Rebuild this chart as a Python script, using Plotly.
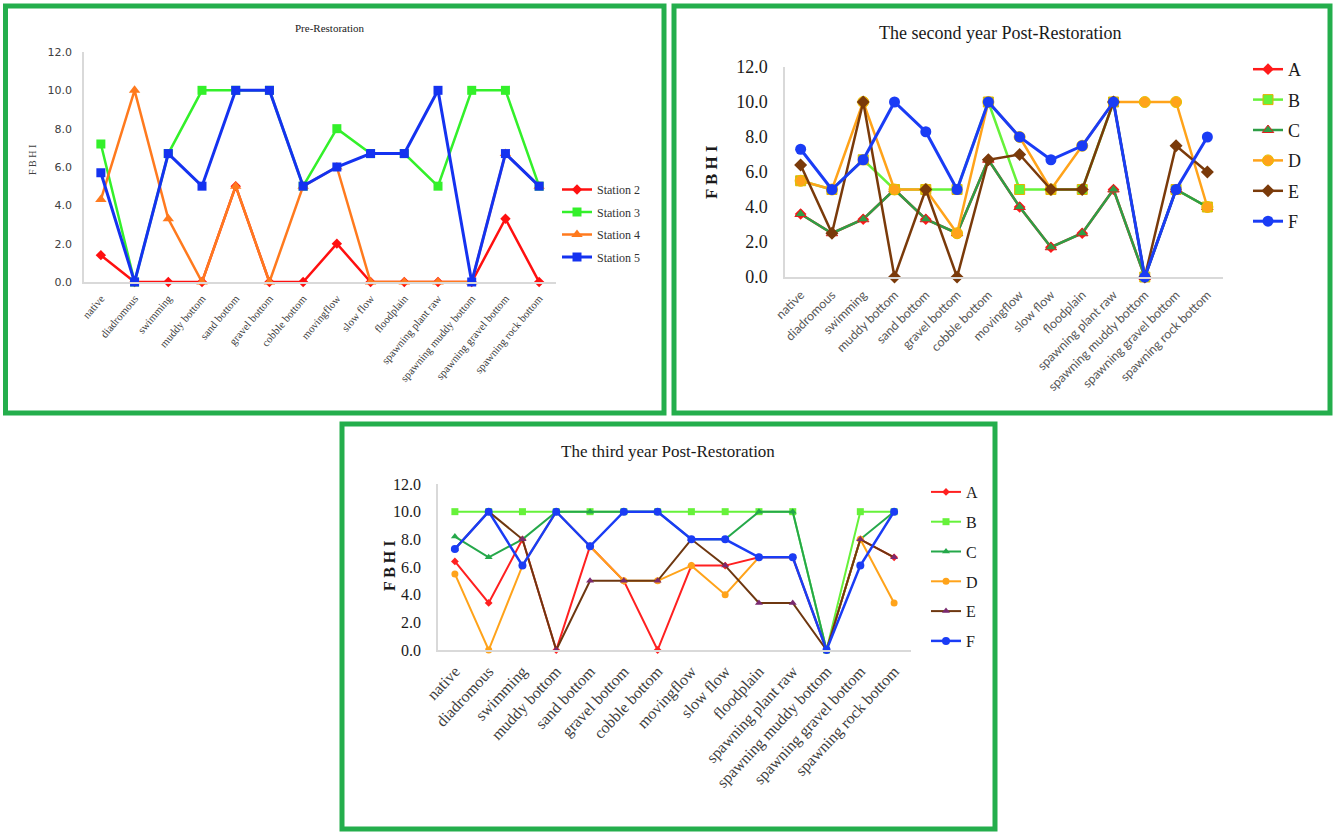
import plotly.graph_objects as go

W, H = 1334, 832

categories = ["native", "diadromous", "swimming", "muddy bottom", "sand bottom",
              "gravel bottom", "cobble bottom", "movingflow", "slow flow", "floodplain",
              "spawning plant raw", "spawning muddy bottom", "spawning gravel bottom",
              "spawning rock bottom"]
y_ticks = [0, 2, 4, 6, 8, 10, 12]

# Pre-Restoration
station2 = [1.4, 0, 0, 0, 5.0, 0, 0, 2.0, 0, 0, 0, 0, 3.3, 0]
station3 = [7.2, 0, 6.7, 10, 10, 10, 5.0, 8.0, 6.7, 6.7, 5.0, 10, 10, 5.0]
station4 = [4.3, 10, 3.3, 0, 5.0, 0, 5.0, 6.0, 0, 0, 0, 0, 6.7, 5.0]
station5 = [5.7, 0, 6.7, 5.0, 10, 10, 5.0, 6.0, 6.7, 6.7, 10, 0, 6.7, 5.0]

# The second year Post-Restoration
a2 = [3.6, 2.5, 3.3, 5.0, 3.3, 2.5, 6.7, 4.0, 1.7, 2.5, 5.0, 0, 5.0, 4.0]
b2 = [5.5, 5.0, 6.7, 5.0, 5.0, 5.0, 10, 5.0, 5.0, 5.0, 10, 0, 5.0, 4.0]
c2 = [3.6, 2.5, 3.3, 5.0, 3.3, 2.5, 6.7, 4.0, 1.7, 2.5, 5.0, 0, 5.0, 4.0]
d2 = [5.5, 5.0, 10, 5.0, 5.0, 2.5, 10, 8.0, 5.0, 7.5, 10, 10, 10, 4.0]
e2 = [6.4, 2.5, 10, 0, 5.0, 0, 6.7, 7.0, 5.0, 5.0, 10, 0, 7.5, 6.0]
f2 = [7.3, 5.0, 6.7, 10, 8.3, 5.0, 10, 8.0, 6.7, 7.5, 10, 0, 5.0, 8.0]

# The third year Post-Restoration
a3 = [6.4, 3.4, 8.0, 0, 7.5, 5.0, 0, 6.1, 6.1, 6.7, 6.7, 0, 8.0, 6.7]
b3 = [10, 10, 10, 10, 10, 10, 10, 10, 10, 10, 10, 0, 10, 10]
c3 = [8.2, 6.7, 8.0, 10, 10, 10, 10, 8.0, 8.0, 10, 10, 0, 8.0, 10]
d3 = [5.5, 0, 6.1, 10, 7.5, 5.0, 5.0, 6.1, 4.0, 6.7, 6.7, 0, 8.0, 3.4]
e3 = [7.3, 10, 8.0, 0, 5.0, 5.0, 5.0, 8.0, 6.1, 3.4, 3.4, 0, 8.0, 6.7]
f3 = [7.3, 10, 6.1, 10, 7.5, 10, 10, 8.0, 8.0, 6.7, 6.7, 0, 6.1, 10]

fig = go.Figure()


def add(name, vals, xa, ya, leg, color, symbol, size, lw, mcolor=None, mline=None, mlw=0):
    fig.add_trace(go.Scatter(
        x=categories, y=vals, name=name, mode="lines+markers",
        xaxis=xa, yaxis=ya, legend=leg, legendgroup=leg + name,
        line=dict(color=color, width=lw),
        marker=dict(symbol=symbol, size=size, color=mcolor or color,
                    line=dict(color=mline or (mcolor or color), width=mlw)),
        cliponaxis=False))


# panel 1
add("Station 2", station2, "x", "y", "legend", "#FF1010", "diamond", 8, 2.5)
add("Station 3", station3, "x", "y", "legend", "#33F02A", "square", 9, 2.5)
add("Station 4", station4, "x", "y", "legend", "#FF7A1E", "triangle-up", 10, 2.5)
add("Station 5", station5, "x", "y", "legend", "#1432F0", "square", 9, 3)

# panel 2
add("A", a2, "x2", "y2", "legend2", "#FF1A1A", "diamond", 9, 2.5)
add("B", b2, "x2", "y2", "legend2", "#66F23A", "square", 10, 2.5, mline="#E8B000", mlw=1)
add("C", c2, "x2", "y2", "legend2", "#2E9E46", "triangle-up", 10, 2.5, mline="#E02020", mlw=1)
add("D", d2, "x2", "y2", "legend2", "#FFA31A", "circle", 11, 2.5, mline="#E8C000", mlw=1)
add("E", e2, "x2", "y2", "legend2", "#7A3A0A", "diamond", 10, 2.5)
add("F", f2, "x2", "y2", "legend2", "#1A3CF5", "circle", 11, 3)

# panel 3
add("A", a3, "x3", "y3", "legend3", "#FF2020", "diamond", 6, 2)
add("B", b3, "x3", "y3", "legend3", "#66F23A", "square", 7, 2)
add("C", c3, "x3", "y3", "legend3", "#25A84A", "triangle-up", 7, 2)
add("D", d3, "x3", "y3", "legend3", "#FFA31A", "circle", 7, 2)
add("E", e3, "x3", "y3", "legend3", "#6E3710", "triangle-up", 7, 2, mcolor="#7A2A70")
add("F", f3, "x3", "y3", "legend3", "#1A3CF5", "circle", 8, 2.5)


def xd(a, b):
    return [a / W, b / W]


def yd(top, bottom):
    return [1 - bottom / H, 1 - top / H]


axis_common = dict(showline=True, linecolor="#D9D9D9", linewidth=1.5, showgrid=False,
                   zeroline=False, ticks="", automargin=False)

fig.update_layout(
    width=W, height=H, margin=dict(l=0, r=0, t=0, b=0, pad=0, autoexpand=False),
    paper_bgcolor="white", plot_bgcolor="white",
    xaxis=dict(domain=xd(84, 556), anchor="y", type="category", range=[-0.5, 13.5],
               tickangle=-50, ticklabelstandoff=4,
               tickfont=dict(family="Liberation Serif", size=11, color="#404040"), **axis_common),
    yaxis=dict(domain=yd(52, 282), anchor="x", range=[0, 12], tickvals=y_ticks, tickformat=".1f",
               ticklabelstandoff=8,
               tickfont=dict(family="DejaVu Sans", size=11, color="#404040"), **axis_common),
    xaxis2=dict(domain=xd(785, 1223), anchor="y2", type="category", range=[-0.5, 13.5],
                tickangle=-45, ticklabelstandoff=4,
                tickfont=dict(family="Lato", size=12.5, color="#595959"), **axis_common),
    yaxis2=dict(domain=yd(67, 277), anchor="x2", range=[0, 12], tickvals=y_ticks, tickformat=".1f",
                ticklabelstandoff=12,
                tickfont=dict(family="Liberation Serif", size=18, color="#1a1a1a"), **axis_common),
    xaxis3=dict(domain=xd(438, 911), anchor="y3", type="category", range=[-0.5, 13.5],
                tickangle=-47, ticklabelstandoff=4,
                tickfont=dict(family="Liberation Serif", size=16, color="#404040"), **axis_common),
    yaxis3=dict(domain=yd(484, 650), anchor="x3", range=[0, 12], tickvals=y_ticks, tickformat=".1f",
                ticklabelstandoff=12,
                tickfont=dict(family="Liberation Serif", size=16, color="#1a1a1a"), **axis_common),
    legend=dict(x=557 / W, y=1 - 175 / H, xanchor="left", yanchor="top", bgcolor="rgba(0,0,0,0)",
                font=dict(family="Liberation Serif", size=12, color="#333333"), tracegroupgap=3.5),
    legend2=dict(x=1248 / W, y=1 - 51 / H, xanchor="left", yanchor="top", bgcolor="rgba(0,0,0,0)",
                 font=dict(family="Liberation Serif", size=18, color="#1a1a1a"), tracegroupgap=4),
    legend3=dict(x=926 / W, y=1 - 475 / H, xanchor="left", yanchor="top", bgcolor="rgba(0,0,0,0)",
                 font=dict(family="Liberation Serif", size=16, color="#1a1a1a"), tracegroupgap=6),
    showlegend=True,
)

border = "#24AE4C"
shapes = []
for (x0, y0, x1, y1) in [(5.5, 6, 664, 413), (674, 6, 1330, 413), (342, 424, 995, 829)]:
    shapes.append(dict(type="rect", xref="paper", yref="paper",
                       x0=x0 / W, x1=x1 / W, y0=1 - y1 / H, y1=1 - y0 / H,
                       line=dict(color=border, width=5), fillcolor="rgba(0,0,0,0)"))
fig.update_layout(shapes=shapes)

ann = []


def text(x, y, s, size, bold=False, angle=0, family="Liberation Serif", color="#1a1a1a"):
    ann.append(dict(x=x / W, y=1 - y / H, xref="paper", yref="paper", text=f"<b>{s}</b>" if bold else s,
                    showarrow=False, textangle=angle, xanchor="center", yanchor="middle",
                    font=dict(family=family, size=size, color=color)))


text(330, 28, "Pre-Restoration", 11)
text(1000, 33, "The second year Post-Restoration", 18)
text(668, 452, "The third year Post-Restoration", 17)
text(32, 160, "F B H I", 10, angle=-90, color="#404040")
text(712, 172, "F B H I", 17, bold=True, angle=-90)
text(389, 566, "F B H I", 16, bold=True, angle=-90)
fig.update_layout(annotations=ann)

fig.write_html("out.html", config={"displayModeBar": False},
               post_script="document.body.style.margin='0';")
